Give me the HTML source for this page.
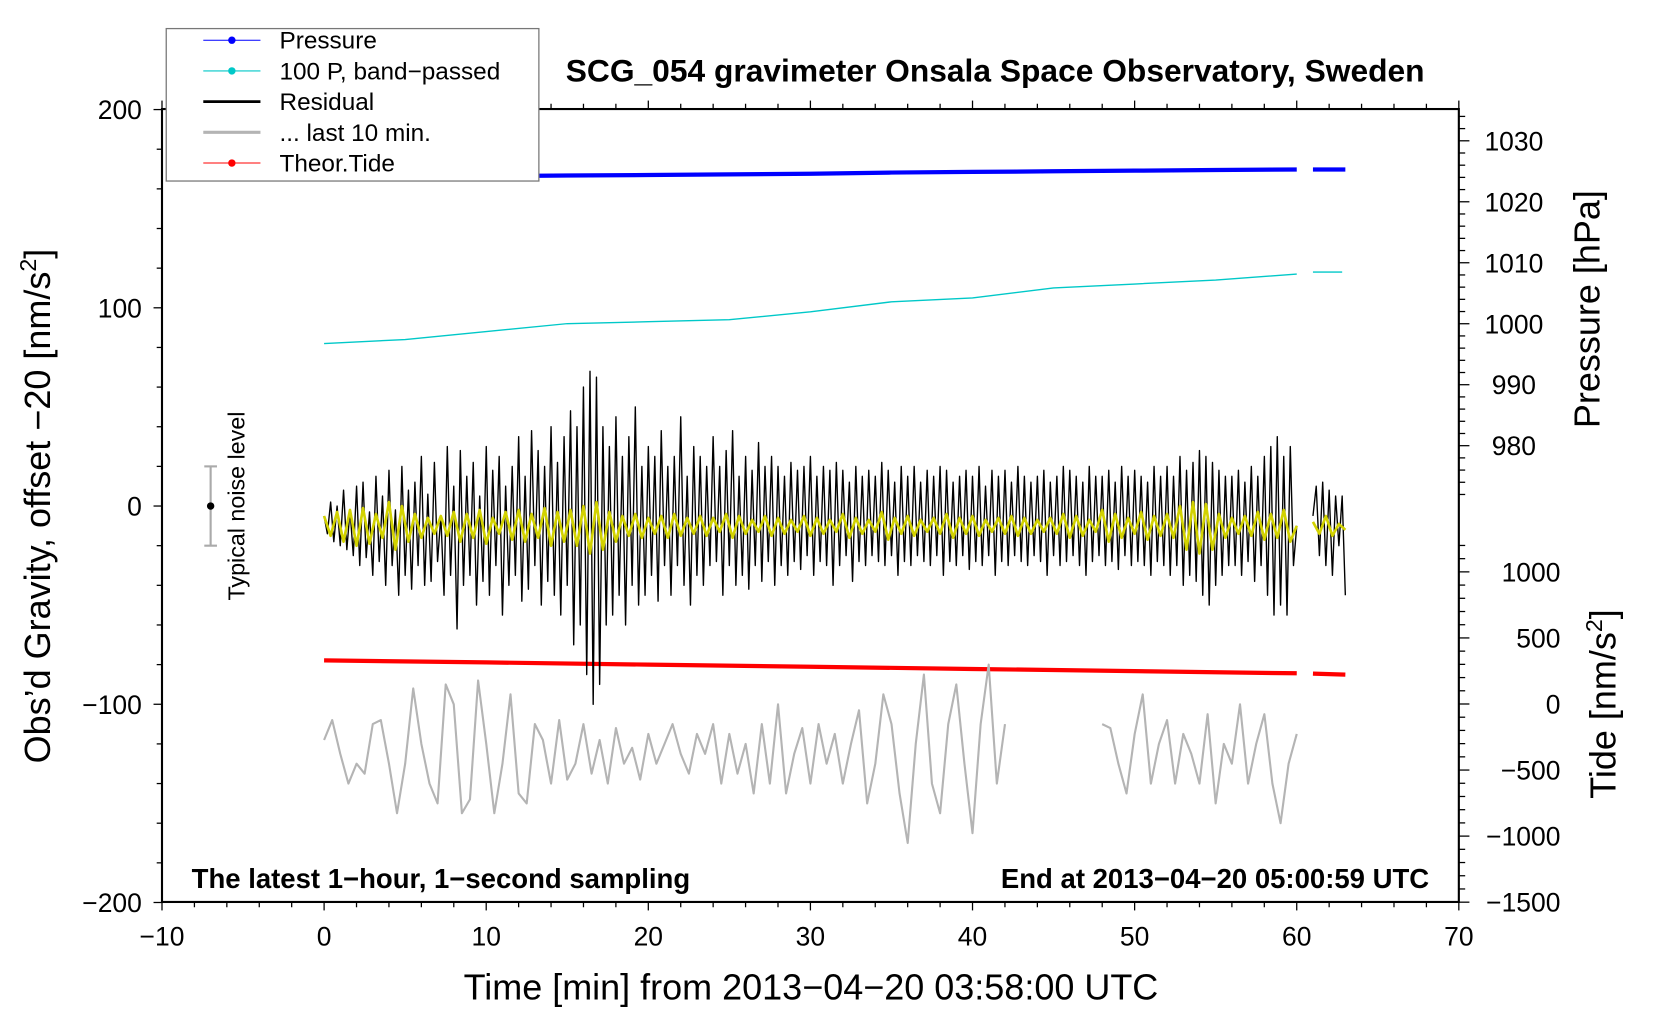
<!DOCTYPE html>
<html><head><meta charset="utf-8"><style>
html,body{margin:0;padding:0;background:#fff;}
svg{display:block;font-family:"Liberation Sans",Arial,sans-serif;}
</style></head><body>
<svg id="chart" width="1660" height="1020" viewBox="0 0 1568 963.5" xmlns="http://www.w3.org/2000/svg">
<g id="plot"></g>
</svg>
<script>
// ---- data ----
const residualStart = 0, residualStep = 0.2;
const residual = [-5,-14,2,-18,0,-20,8,-22,-2,-25,
10,-30,12,-26,-3,-35,15,-28,5,-40,
18,-30,-2,-45,20,-35,8,-42,12,-30,
25,-40,6,-38,22,-28,-5,-45,30,-35,
10,-62,28,-40,15,-35,22,-50,5,-38,
30,-45,18,-30,25,-55,10,-40,20,-35,
35,-48,15,-42,38,-30,28,-50,20,-38,
40,-45,22,-55,35,-40,48,-70,40,-60,
60,-85,68,-100,65,-90,40,-60,30,-55,
45,-45,25,-60,35,-40,50,-50,20,-45,
30,-35,25,-48,38,-30,20,-45,25,-30,
45,-40,15,-50,30,-35,25,-40,20,-30,
35,-28,20,-45,28,-30,38,-40,15,-35,
25,-42,18,-30,32,-38,20,-28,25,-40,
20,-30,15,-35,22,-28,18,-32,20,-25,
25,-35,15,-28,20,-30,18,-40,22,-30,
18,-25,12,-38,20,-28,15,-30,18,-25,
15,-28,22,-30,18,-25,12,-35,20,-28,
15,-30,20,-25,12,-28,18,-30,15,-25,
20,-35,18,-28,12,-30,15,-25,18,-32,
15,-28,20,-30,10,-25,18,-35,15,-28,
18,-30,12,-25,20,-28,15,-30,12,-25,
15,-28,18,-35,12,-25,15,-30,20,-28,
18,-25,15,-30,12,-35,20,-28,15,-25,
15,-30,18,-28,12,-32,20,-25,15,-30,
18,-28,15,-30,12,-35,20,-28,15,-30,
20,-35,15,-30,25,-40,18,-35,22,-38,
28,-45,25,-50,22,-40,18,-35,15,-30,
15,-30,18,-35,12,-28,20,-38,15,-30,
25,-45,30,-55,35,-50,25,-55,30,-30,-10];
const residual2Start = 61;
const residual2 = [-5,10,-25,12,-30,8,-35,5,-20,5,-45];
const filteredStep = 0.4;
const filtered = [-5,-15,-3,-18,-2,-20,-1,-19,-4,-16,
2,-22,0,-18,-4,-16,-6,-14,-5,-15,
-3,-18,-4,-16,-2,-19,-6,-14,-3,-17,
-2,-18,-4,-16,-1,-20,-3,-18,-2,-20,
0,-24,2,-22,-3,-18,-5,-15,-4,-16,
-6,-14,-5,-16,-4,-15,-6,-14,-5,-15,
-6,-13,-4,-16,-5,-14,-7,-13,-5,-15,
-6,-14,-7,-13,-5,-15,-6,-14,-7,-13,
-4,-16,-6,-14,-7,-13,-3,-17,-6,-14,
-5,-15,-7,-13,-6,-14,-4,-16,-6,-14,
-5,-15,-7,-13,-6,-14,-5,-15,-6,-14,
-7,-13,-6,-14,-4,-16,-5,-15,-7,-13,
-2,-18,-4,-16,-6,-14,-3,-17,-5,-15,
-4,-16,0,-22,2,-24,1,-22,-4,-16,
-6,-14,-5,-15,-3,-17,-4,-16,-2,-18,-10];
const filtered2 = [-8,-14,-5,-15,-9,-12];
const last10Step = 0.5;
const last10a = [-118,-108,-125,-140,-130,-135,-110,-108,-130,-155,-130,-92,-120,-140,-150,-90,-100,-155,-148,-88,-120,-155,-130,-95,-145,-150,-110,-118,-140,-108,-138,-130,-110,-135,-118,-140,-112,-130,-122,-138,-115,-130,-120,-110,-125,-135,-115,-125,-110,-140,-115,-135,-120,-145,-110,-140,-100,-145,-125,-112,-140,-110,-130,-115,-140,-120,-103,-150,-130,-95,-110,-145,-170,-120,-85,-140,-155,-110,-90,-130,-165,-110,-80,-140,-110];
const last10bStart = 48;
const last10b = [-110,-112,-130,-145,-115,-95,-140,-120,-108,-140,-115,-125,-140,-105,-150,-120,-130,-100,-140,-120,-105,-140,-160,-130,-115];
const pressureTimes = [0,5,10,15,20,25,30,35,40,45,50,55,60,61,63];
const pressure = [1024.0,1024.1,1024.2,1024.3,1024.4,1024.5,1024.6,1024.8,1024.9,1025.0,1025.1,1025.2,1025.3,1025.3,1025.3];
const bandTimes = [0,5,10,15,20,25,30,35,40,45,50,55,60,61,62.8];
const bandPassed = [82,84,88,92,93,94,98,103,105,110,112,114,117,118,118];
const tideTimes = [0,10,20,30,40,50,60,61,63];
const tide = [330,315,298,282,265,248,232,230,222];
const xTicks = [-10,0,10,20,30,40,50,60,70];
const yTicks = [200,100,0,-100,-200];
const pTicks = [1030,1020,1010,1000,990,980];
const tTicks = [1000,500,0,-500,-1000,-1500];

// ---- axes ----
const L=153,R=1378,T=103,B=852;
const X = v => L + (v+10)*(R-L)/80;
const Y = v => 478 - v*1.8725;
const P = v => 133 + (1030-v)*5.76;
const TD = v => 665 - v*0.1248;
const NS="http://www.w3.org/2000/svg";
const g=document.getElementById('plot');
function el(tag,attrs,parent){const e=document.createElementNS(NS,tag);for(const k in attrs)e.setAttribute(k,attrs[k]);(parent||g).appendChild(e);return e;}
function txt(s,attrs,parent){const e=el('text',attrs,parent);e.textContent=s;return e;}
function path(pts){return pts.map((p,i)=>(i?'L':'M')+p[0].toFixed(1)+' '+p[1].toFixed(1)).join('');}

let fr=el('rect',{x:L,y:T,width:R-L,height:B-T,fill:'none',stroke:'#000','stroke-width':2});



for(let v=-10;v<=70;v+=2){const maj=v%10===0;
 el('line',{x1:X(v),x2:X(v),y1:B,y2:B+(maj?8:5),stroke:'#000','stroke-width':1.2});
 el('line',{x1:X(v),x2:X(v),y1:T,y2:T-(maj?8:5),stroke:'#000','stroke-width':1.2});}
xTicks.forEach(v=>{const t=txt(String(v).replace('-','\u2212'),{x:X(v),y:893,'font-size':25,'text-anchor':'middle'});
 
 });
for(let v=-200;v<=200;v+=20){const maj=v%100===0;
 el('line',{x1:L,x2:L-(maj?8:5),y1:Y(v),y2:Y(v),stroke:'#000','stroke-width':1.2});}
yTicks.forEach(v=>{const t=txt(String(v).replace('-','\u2212'),{x:L-19,y:Y(v)+9,'font-size':25,'text-anchor':'end'});
 
 });
for(let v=972;v<=1034;v+=2){const maj=v%10===0;
 el('line',{x1:R,x2:R+(maj?10:6),y1:P(v),y2:P(v),stroke:'#000','stroke-width':1.2});}
pTicks.forEach(v=>{const t=txt(String(v),{x:1430,y:P(v)+9,'font-size':25,'text-anchor':'middle'});
 
 });
for(let v=-1500;v<=1200;v+=100){const maj=v%500===0;
 el('line',{x1:R,x2:R+(maj?10:6),y1:TD(v),y2:TD(v),stroke:'#000','stroke-width':1.2});}
tTicks.forEach(v=>{const t=txt(String(v).replace('-','\u2212'),{x:1474,y:TD(v)+9,'font-size':25,'text-anchor':'end'});
 
 });

// ---- series ----
function seriesPts(arr,start,step,fy){return arr.map((v,i)=>[X(start+i*step),fy(v)]);}
function pairPts(ts,vs,fy){return ts.map((t,i)=>[X(t),fy(vs[i])]);}
function draw(pts,color,w,name){const p=el('path',{d:path(pts),fill:'none',stroke:color,'stroke-width':w,'stroke-linejoin':'round'});
 
 return p;}
const pp=pairPts(pressureTimes,pressure,P);
draw(pp.slice(0,13),'#0000ff',4,'pressure-line');
draw(pp.slice(13),'#0000ff',4,'pressure-line-tail');
const bp=pairPts(bandTimes,bandPassed,Y);
draw(bp.slice(0,13),'#00c8c8',1.3,'band-passed-line');
draw(bp.slice(13),'#00c8c8',1.3,'band-passed-line-tail');
const tp=pairPts(tideTimes,tide,TD);
draw(tp.slice(0,7),'#ff0000',4,'tide-line');
draw(tp.slice(7),'#ff0000',4,'tide-line-tail');
draw(seriesPts(last10a,0,last10Step,Y),'#b4b4b4',2,'last-10-min-line');
draw(seriesPts(last10b,last10bStart,last10Step,Y),'#b4b4b4',2,'last-10-min-line-b');
draw(seriesPts(residual,residualStart,residualStep,Y),'#000',1.3,'residual-line');
draw(seriesPts(residual2,residual2Start,residualStep,Y),'#000',1.3,'residual-line-tail');
draw(seriesPts(filtered,0,filteredStep,Y),'#d2d200',2.5,'filtered-line');
draw(seriesPts(filtered2,61,filteredStep,Y),'#d2d200',2.5,'filtered-line-tail');

el('line',{x1:X(-7),x2:X(-7),y1:Y(20),y2:Y(-20),stroke:'#aaa','stroke-width':2});
el('line',{x1:X(-7)-6,x2:X(-7)+6,y1:Y(20),y2:Y(20),stroke:'#aaa','stroke-width':2});
el('line',{x1:X(-7)-6,x2:X(-7)+6,y1:Y(-20),y2:Y(-20),stroke:'#aaa','stroke-width':2});
el('circle',{cx:X(-7),cy:Y(0),r:3.5,fill:'#000'});
let nt=txt('Typical noise level',{transform:`translate(231,478) rotate(-90)`,'font-size':22,'text-anchor':'middle'});



let ti=txt('SCG_054 gravimeter Onsala Space Observatory, Sweden',{x:940,y:77,'font-size':30,'font-weight':'bold','text-anchor':'middle'});


let a1=txt('The latest 1-hour, 1-second sampling'.replace(/-/g,'\u2212'),{x:181,y:839,'font-size':26,'font-weight':'bold'});


let a2=txt('End at 2013\u221204\u221220 05:00:59 UTC',{x:1350,y:839,'font-size':26,'font-weight':'bold','text-anchor':'end'});


let xl=txt('Time [min] from 2013\u221204\u221220 03:58:00 UTC',{x:766,y:944,'font-size':34,'text-anchor':'middle'});


let yl=el('text',{transform:'translate(47,478) rotate(-90)','font-size':34,'text-anchor':'middle'});
yl.innerHTML='Obs\u2019d Gravity, offset \u221220 [nm/s<tspan dy="-13" font-size="22">2</tspan><tspan dy="13">]</tspan>';


let pl=txt('Pressure [hPa]',{transform:'translate(1511,292) rotate(-90)','font-size':34,'text-anchor':'middle'});


let tl=el('text',{transform:'translate(1526,665) rotate(-90)','font-size':34,'text-anchor':'middle'});
tl.innerHTML='Tide [nm/s<tspan dy="-13" font-size="22">2</tspan><tspan dy="13">]</tspan>';



const lg=el('g',{});


el('rect',{x:157,y:27,width:352,height:144,fill:'#fff',stroke:'#777','stroke-width':1.2},lg);
const legNames=['Pressure','100 P, band\u2212passed','Residual','... last 10 min.','Theor.Tide'];
const legColors=['#0000ff','#00c8c8','#000','#b4b4b4','#ff0000'];
const legDots=[true,true,false,false,true];
legNames.forEach((n,i)=>{const y=38+i*29;
 const e=el('g',{},lg);
 
 
 el('line',{x1:192,x2:246,y1:y,y2:y,stroke:legColors[i],'stroke-width':legDots[i]?1:(i===3?3:2.5)},e);
 if(legDots[i])el('circle',{cx:219,cy:y,r:3.5,fill:legColors[i]},e);
 txt(n,{x:264,y:y+8,'font-size':23},e);});
</script>
</body></html>
